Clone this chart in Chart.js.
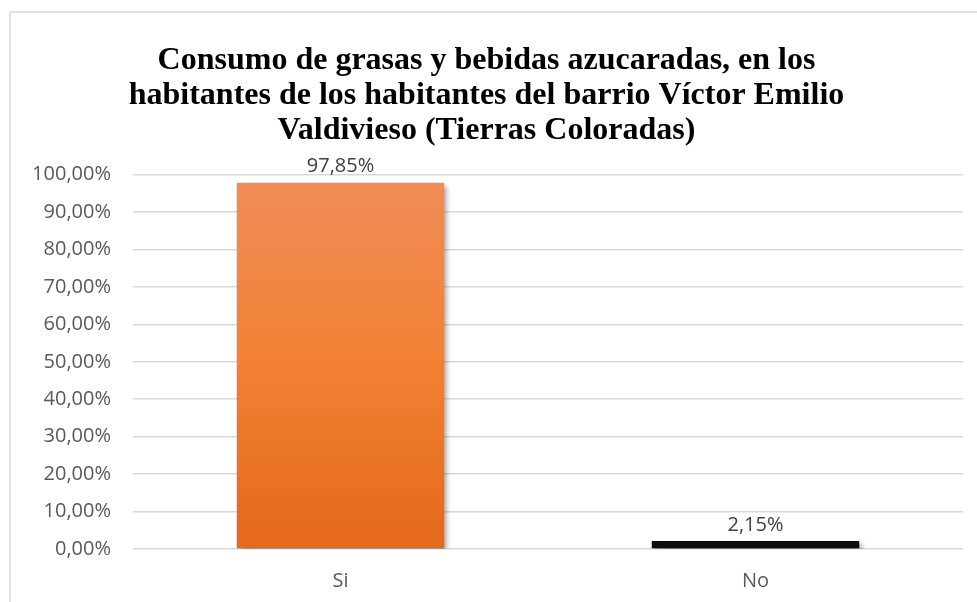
<!DOCTYPE html>
<html>
<head>
<meta charset="utf-8">
<script src="https://cdn.jsdelivr.net/npm/chart.js@4/dist/chart.umd.min.js"></script>
<style>
  html, body { margin: 0; padding: 0; background: #fff; }
  #wrap { width: 977px; height: 602px; }
</style>
</head>
<body>
<div id="wrap"><canvas id="chart" width="977" height="602"></canvas></div>
<script>
const categories = ['Si', 'No'];
const values = [97.85, 2.15];
const titleLines = [
  'Consumo de grasas y bebidas azucaradas, en los',
  'habitantes de los habitantes del barrio Víctor Emilio',
  'Valdivieso (Tierras Coloradas)'
];

const pct = v => v.toFixed(2).replace('.', ',') + '%';
const tickFont = { family: 'Open Sans', size: 20 };

// outer frame around the whole chart
const frame = {
  id: 'frame',
  beforeDraw(chart) {
    const ctx = chart.ctx;
    ctx.save();
    ctx.fillStyle = '#fff';
    ctx.fillRect(0, 0, chart.width, chart.height);
    ctx.strokeStyle = '#d9d9d9';
    ctx.lineWidth = 1.5;
    ctx.strokeRect(10, 12, chart.width, chart.height);
    ctx.restore();
  }
};

// soft drop shadow under the bars
const barShadow = {
  id: 'barShadow',
  beforeDatasetsDraw(chart) {
    const ctx = chart.ctx;
    ctx.save();
    ctx.shadowColor = 'rgba(0,0,0,0.35)';
    ctx.shadowBlur = 5;
    ctx.shadowOffsetX = 3;
    ctx.shadowOffsetY = 3;
  },
  afterDatasetsDraw(chart) {
    chart.ctx.restore();
  }
};

// value labels above each bar
const valueLabels = {
  id: 'valueLabels',
  afterDatasetsDraw(chart) {
    const ctx = chart.ctx;
    const meta = chart.getDatasetMeta(0);
    ctx.save();
    ctx.font = `${tickFont.size}px "${tickFont.family}"`;
    ctx.fillStyle = '#404040';
    ctx.textAlign = 'center';
    ctx.textBaseline = 'bottom';
    meta.data.forEach((bar, i) => {
      ctx.fillText(pct(values[i]), bar.x, bar.y - 6);
    });
    ctx.restore();
  }
};

function orangeFill(context) {
  const area = context.chart.chartArea;
  if (!area) return '#ED7D31';
  if (context.dataIndex === 1) return '#0d0d0d';
  const g = context.chart.ctx.createLinearGradient(0, area.top, 0, area.bottom);
  g.addColorStop(0, '#F08D59');
  g.addColorStop(0.5, '#F28134');
  g.addColorStop(1, '#E4691A');
  return g;
}

new Chart(document.getElementById('chart'), {
  type: 'bar',
  data: {
    labels: categories,
    datasets: [{
      data: values,
      backgroundColor: orangeFill,
      borderWidth: 0,
      barPercentage: 0.5,
      categoryPercentage: 1
    }]
  },
  options: {
    responsive: false,
    animation: false,
    layout: { padding: { left: 10, right: 14, top: 0, bottom: 0 } },
    plugins: {
      legend: { display: false },
      tooltip: { enabled: false },
      title: {
        display: true,
        text: titleLines,
        color: '#000',
        font: { family: 'Liberation Serif', size: 32, weight: 'bold', lineHeight: 1.1 },
        padding: { top: 43, bottom: 26 }
      }
    },
    scales: {
      x: {
        grid: { display: false },
        border: { display: false },
        ticks: { color: '#595959', font: tickFont, padding: 12 },
        afterFit(scale) { scale.height = 53; }
      },
      y: {
        min: 0,
        max: 100,
        ticks: {
          stepSize: 10,
          color: '#595959',
          font: tickFont,
          padding: 22,
          callback: v => pct(v)
        },
        grid: { color: '#d9d9d9', lineWidth: 1.5, drawTicks: false },
        border: { display: false },
        afterFit(scale) { scale.height; scale.width = 123; }
      }
    }
  },
  plugins: [frame, barShadow, valueLabels]
});
</script>
</body>
</html>
